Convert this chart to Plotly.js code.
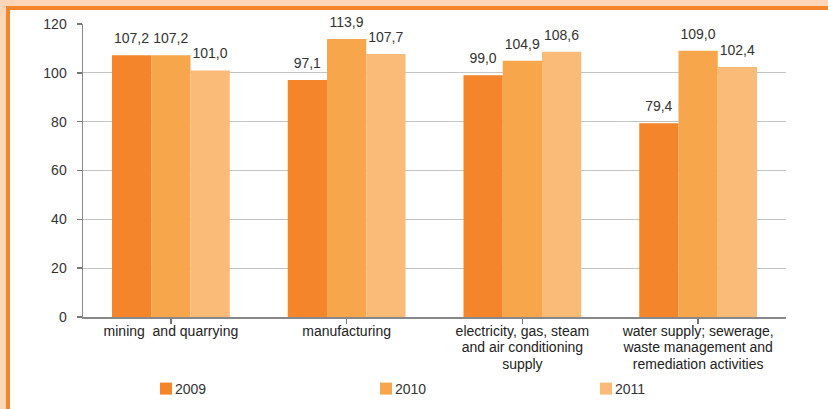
<!DOCTYPE html>
<html><head><meta charset="utf-8">
<script src="https://cdn.plot.ly/plotly-3.0.1.min.js"></script>
<style>html,body{margin:0;padding:0;background:#fff}#c{width:828px;height:409px}</style>
</head><body><div id="c"></div>
<script>
var categories = ["mining\u00a0 and quarrying", "manufacturing", "electricity, gas, steam<br>and air conditioning<br>supply", "water supply; sewerage,<br>waste management and<br>remediation activities"];
var seriesNames = ["2009", "2010", "2011"];
var v2009 = [107.2, 97.1, 99.0, 79.4];
var v2010 = [107.2, 113.9, 104.9, 109.0];
var v2011 = [101.0, 107.7, 108.6, 102.4];
var colors = ["#F4852A", "#F8A64C", "#FABB78"];

function fmt(arr){ return arr.map(function(v){ return v.toFixed(1).replace('.', ','); }); }
var xs = [0,1,2,3];
var traces = [v2009, v2010, v2011].map(function(vals, i){
  return {type:'bar', x: xs, y: vals, name: seriesNames[i], marker:{color: colors[i], line:{width:0}},
    text: fmt(vals), textposition:'outside', textfont:{size:14, color:'#333', family:'Liberation Sans, Arial, sans-serif'},
    cliponaxis:false, hoverinfo:'none'};
});

var L = 83, R = 786, T = 24, B = 317, W = 828, H = 409;
function px2x(p){ return (p - L)/(R - L); }
function py2y(p){ return (B - p)/(B - T); }

var layout = {
  width: W, height: H,
  margin: {l: L, r: W - R, t: T, b: H - B, pad: 0, autoexpand: false},
  paper_bgcolor: '#FFFFFF',
  plot_bgcolor: 'rgba(0,0,0,0)',
  font: {family: 'Liberation Sans, Arial, sans-serif', size: 14, color: '#333'},
  barmode: 'group', bargap: 0.33, bargroupgap: 0,
  showlegend: true,
  legend: {orientation: 'h', x: px2x(146), xanchor: 'left', y: py2y(389), yanchor: 'middle',
    entrywidth: 175, entrywidthmode: 'pixels', font: {size: 14, color: '#333'}, bgcolor: 'rgba(0,0,0,0)', traceorder: 'normal'},
  xaxis: {range: [-0.5, 3.5], tickvals: xs, ticktext: categories, tickson: 'boundaries',
    ticks: 'outside', ticklen: 5, tickcolor: '#777', tickwidth: 1.5, showline: true, linecolor: '#888', linewidth: 1.5,
    showgrid: false, zeroline: false, tickangle: 0, tickfont: {size: 14, color: '#222'}, fixedrange: true},
  yaxis: {range: [0, 120], dtick: 20, ticks: 'outside', ticklen: 5, tickcolor: '#777', tickwidth: 1.5,
    showline: true, linecolor: '#888', linewidth: 1.5, gridcolor: '#C4C4C4', gridwidth: 1.3, zeroline: false,
    tickfont: {size: 14, color: '#333'}, ticklabelstandoff: 7, fixedrange: true},
  shapes: [
    {type: 'rect', xref: 'paper', yref: 'paper', layer: 'below',
     x0: px2x(-10), x1: px2x(6), y0: py2y(H + 30), y1: py2y(-10),
     fillcolor: '#FDD6B8', line: {width: 0}},
    {type: 'rect', xref: 'paper', yref: 'paper', layer: 'below',
     x0: px2x(-10), x1: px2x(W + 30), y0: py2y(6), y1: py2y(-10),
     fillcolor: '#FDD6B8', line: {width: 0}},
    {type: 'rect', xref: 'paper', yref: 'paper', layer: 'below',
     x0: px2x(6), x1: px2x(10), y0: py2y(H + 30), y1: py2y(6),
     fillcolor: '#F4852A', line: {width: 0}},
    {type: 'rect', xref: 'paper', yref: 'paper', layer: 'below',
     x0: px2x(6), x1: px2x(W + 30), y0: py2y(10), y1: py2y(6),
     fillcolor: '#F4852A', line: {width: 0}}
  ]
};
Plotly.newPlot('c', traces, layout, {staticPlot: true, displayModeBar: false}).then(function(gd){
  // lift value labels a little above the bars
  gd.querySelectorAll('text.bartext').forEach(function(t){
    var tr = t.getAttribute('transform') || '';
    t.setAttribute('transform', 'translate(0,-6) ' + tr);
  });
  // tighter line spacing and slightly higher category labels
  gd.querySelectorAll('.xtick text').forEach(function(t){
    t.querySelectorAll('tspan.line').forEach(function(s, k){ s.setAttribute('dy', (k * 1.15) + 'em'); });
    var tr = t.getAttribute('transform') || '';
    t.setAttribute('transform', 'translate(0,-4) ' + tr);
  });
  // legend text nearer to its swatch
  gd.querySelectorAll('.legendtext').forEach(function(t){
    t.setAttribute('x', String(parseFloat(t.getAttribute('x')) - 11));
  });
});
</script></body></html>
